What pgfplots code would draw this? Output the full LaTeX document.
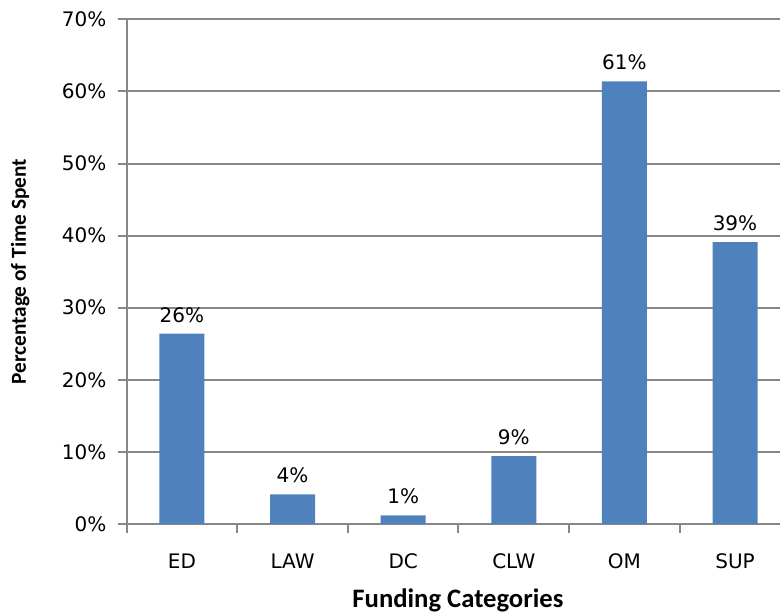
\documentclass[border=0pt]{standalone}
\usepackage{fontspec}
\setmainfont{Carlito}
\newfontfamily\tickfont{DejaVu Sans}
\usepackage{pgfplots}
\pgfplotsset{compat=1.18}
\definecolor{barblue}{HTML}{4F81BD}
\definecolor{gridgray}{HTML}{878787}

\begin{document}
\begin{tikzpicture}
\path[use as bounding box] (0,0) rectangle (585pt,460.5pt);
\begin{scope}
\clip (0,0) rectangle (585pt,460.5pt);
\begin{axis}[
  at={(95pt,67.5pt)}, anchor=south west,
  scale only axis,
  width=490pt, height=378.5pt,
  xmin=-0.5, xmax=5.407,
  ymin=0, ymax=70,
  axis x line*=bottom, axis y line*=left,
  axis line style={draw=gridgray, line width=1.5pt},
  ytick={0,10,...,70},
  yticklabel={\pgfmathprintnumber{\tick}\%},
  ymajorgrids,
  grid style={draw=gridgray, line width=1.5pt},
  xtick={0,...,5},
  xticklabels={ED,LAW,DC,CLW,OM,SUP},
  minor xtick={-0.5,0.5,...,5.5},
  major x tick style={draw=none},
  minor x tick style={draw=gridgray, line width=1.5pt},
  major y tick style={draw=gridgray, line width=1.5pt},
  tick align=outside,
  major tick length=6.75pt,
  minor tick length=6.5pt,
  tick label style={font=\tickfont\fontsize{15}{17}\selectfont, text=black},
  /pgf/number format/assume math mode=true,
  yticklabel style={xshift=-5pt},
  xticklabel style={yshift=-12pt},
  xlabel={Funding Categories},
  ylabel={Percentage of Time Spent},
  xlabel style={font=\bfseries\fontsize{20}{24}\selectfont, at={(axis description cs:0.507,-0.151)}, anchor=center},
  ylabel style={font=\bfseries\fontsize{16}{19}\selectfont, at={(axis description cs:-0.163,0.5)}, anchor=center},
  clip=false,
]
\addplot[
  ybar, bar width=33.75pt,
  fill=barblue, draw=none,
  nodes near coords={\pgfmathprintnumber[fixed,precision=0]{\pgfplotspointmeta}\%},
  every node near coord/.append style={font=\tickfont\fontsize{15}{17}\selectfont, text=black, anchor=south, yshift=5pt},
] coordinates {
  (0,26.4) (1,4.1) (2,1.2) (3,9.4) (4,61.4) (5,39.1)
};
\end{axis}
\end{scope}
\end{tikzpicture}
\end{document}
